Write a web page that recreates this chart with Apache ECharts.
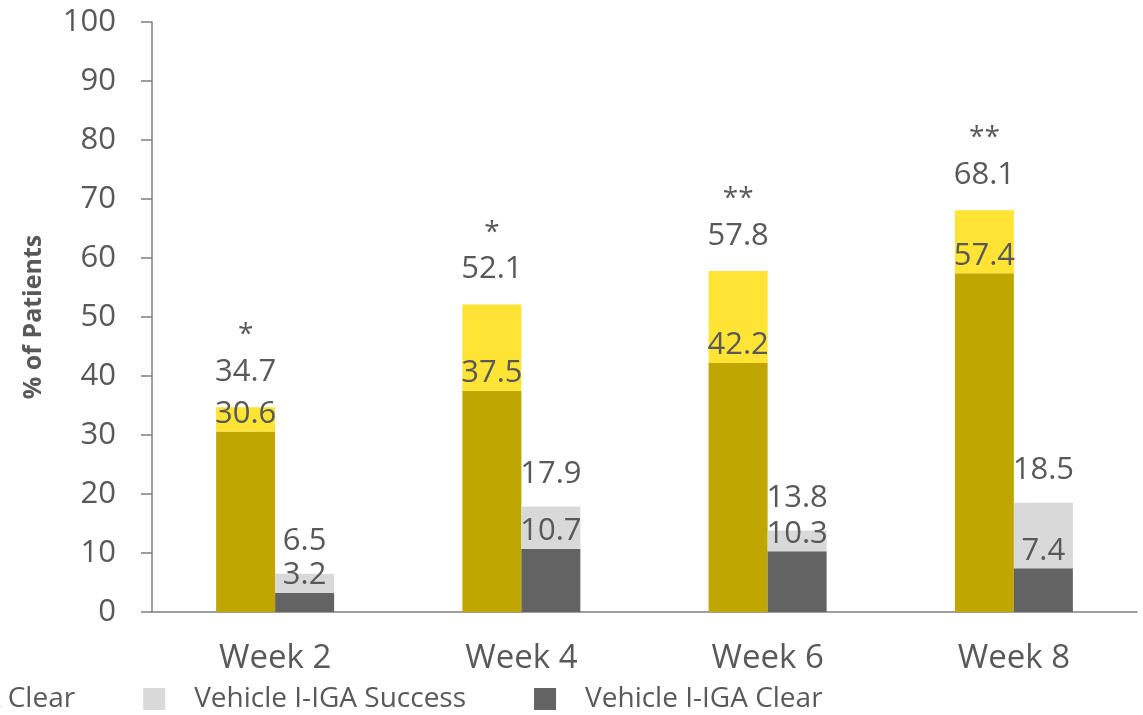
<!DOCTYPE html>
<html>
<head>
<meta charset="utf-8">
<script src="https://cdn.jsdelivr.net/npm/echarts@6/dist/echarts.min.js"></script>
<style>html,body{margin:0;padding:0;background:#fff;}#c{width:1143px;height:715px;}</style>
</head>
<body>
<div id="c"></div>
<script>
var categories = ['Week 2', 'Week 4', 'Week 6', 'Week 8'];
var treatClear = [30.6, 37.5, 42.2, 57.4];
var treatTotal = [34.7, 52.1, 57.8, 68.1];
var vehClear = [3.2, 10.7, 10.3, 7.4];
var vehTotal = [6.5, 17.9, 13.8, 18.5];
var stars = ['*', '*', '**', '**'];
var yTicks = [0, 10, 20, 30, 40, 50, 60, 70, 80, 90, 100];

function diff(a, b) { return a.map(function (v, i) { return Math.round((v - b[i]) * 10) / 10; }); }
var treatSucc = diff(treatTotal, treatClear);
var vehSucc = diff(vehTotal, vehClear);

var txt = '#595959';
var numFont = 'Open Sans';
var labelSize = 31;

var chart = echarts.init(document.getElementById('c'));
chart.setOption({
  animation: false,
  grid: { left: 152, right: 6, top: 22, bottom: 103 },
  legend: {
    left: -409, bottom: -3, itemWidth: 22, itemHeight: 22, itemGap: 68,
    icon: 'rect',
    textStyle: { color: txt, fontFamily: numFont, fontSize: 28, padding: [0, 0, 0, 24] },
    data: ['I-IGA Success', 'I-IGA Clear', 'Vehicle I-IGA Success', 'Vehicle I-IGA Clear']
  },
  xAxis: {
    type: 'category', data: categories,
    axisLine: { lineStyle: { color: '#7f7f7f', width: 1.5 } },
    axisTick: { show: false },
    axisLabel: { color: txt, fontFamily: numFont, fontSize: 33, margin: 30 }
  },
  yAxis: {
    type: 'value', min: yTicks[0], max: yTicks[yTicks.length - 1], interval: 10,
    name: '% of Patients', nameLocation: 'middle', nameGap: 106,
    nameTextStyle: { color: txt, fontFamily: numFont, fontWeight: 'bold', fontSize: 25 },
    axisLine: { show: true, lineStyle: { color: '#7f7f7f', width: 1.5 } },
    axisTick: { show: true, length: 11, lineStyle: { color: '#7f7f7f', width: 1.5 } },
    splitLine: { show: false },
    axisLabel: { color: txt, fontFamily: numFont, fontSize: 31, margin: 36 }
  },
  series: [
    {
      name: 'I-IGA Clear', type: 'bar', stack: 'trt', data: treatClear,
      barWidth: 59, barGap: '0%',
      itemStyle: { color: '#BFA600' },
      label: { show: true, position: 'top', distance: 2, color: txt, fontFamily: numFont, fontSize: labelSize }
    },
    {
      name: 'I-IGA Success', type: 'bar', stack: 'trt', data: treatSucc,
      barWidth: 59, barGap: '0%',
      itemStyle: { color: '#FFE335' },
      label: {
        show: true, position: 'top', distance: 17,
        formatter: function (p) { return '{s|' + stars[p.dataIndex] + '}\n{v|' + treatTotal[p.dataIndex].toFixed(1) + '}'; },
        rich: {
          s: { color: txt, fontFamily: numFont, fontSize: 28, lineHeight: 38 },
          v: { color: txt, fontFamily: numFont, fontSize: labelSize, lineHeight: 36 }
        }
      }
    },
    {
      name: 'Vehicle I-IGA Clear', type: 'bar', stack: 'veh', data: vehClear,
      barWidth: 59, barGap: '0%',
      itemStyle: { color: '#636363' },
      label: { show: true, position: 'top', distance: 2, color: txt, fontFamily: numFont, fontSize: labelSize }
    },
    {
      name: 'Vehicle I-IGA Success', type: 'bar', stack: 'veh', data: vehSucc,
      barWidth: 59, barGap: '0%',
      itemStyle: { color: '#D9D9D9' },
      label: {
        show: true, position: 'top', distance: 17, color: txt, fontFamily: numFont, fontSize: labelSize,
        formatter: function (p) { return vehTotal[p.dataIndex].toFixed(1); }
      }
    }
  ]
});
</script>
</body>
</html>
